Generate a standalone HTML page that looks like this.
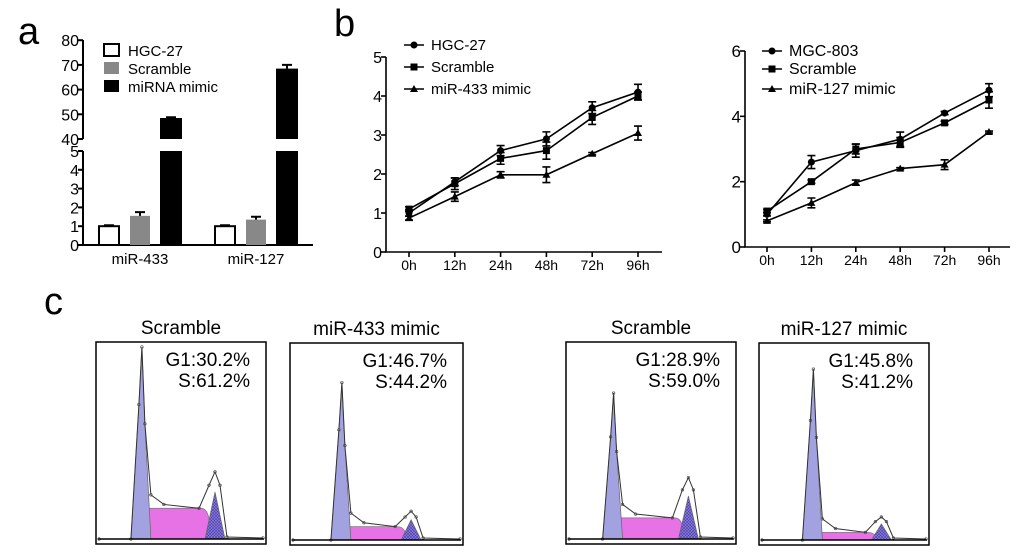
<!DOCTYPE html>
<html><head><meta charset="utf-8"><style>
body{margin:0;background:#fff;}
svg{display:block;font-family:"Liberation Sans",Arial,sans-serif;}
</style></head><body>
<svg id="fig" width="1024" height="558" viewBox="0 0 1024 558">
<defs>
<pattern id="hatch" width="3" height="3" patternUnits="userSpaceOnUse"><rect width="3" height="3" fill="#8a7fd8"/><path d="M0 0L3 3M3 0L0 3" stroke="#4a3aa8" stroke-width="0.6"/></pattern>
</defs>
<text x="18" y="44" font-size="38">a</text>
<text x="334" y="36" font-size="38">b</text>
<text x="44" y="314" font-size="38">c</text>
<g id="ga"></g>
<g id="gb1"></g>
<g id="gb2"></g>
<g id="gc"></g>
</svg>
<script>
// ---- panel a data
const aCats = ["miR-433","miR-127"];
const aSeries = ["HGC-27","Scramble","miRNA mimic"];
const aHGC = [1.0, 1.0];
const aScr = [1.55, 1.35];
const aScrErr = [0.2, 0.15];
const aMim = [48.5, 68.5];
const aMimErr = [0.3, 1.5];
const aLowTicks = [0,1,2,3,4,5];
const aHighTicks = [40,50,60,70,80];
// ---- panel b data
const bCats = ["0h","12h","24h","48h","72h","96h"];
const b1Names = ["HGC-27","Scramble","miR-433 mimic"];
const b1HGC = [1.0,1.8,2.6,2.9,3.7,4.1];
const b1HGCErr = [0.08,0.1,0.13,0.18,0.15,0.2];
const b1Scr = [1.1,1.75,2.4,2.6,3.45,4.0];
const b1ScrErr = [0.06,0.15,0.15,0.22,0.18,0.1];
const b1Mim = [0.87,1.42,1.98,1.98,2.52,3.05];
const b1MimErr = [0.05,0.12,0.08,0.2,0.03,0.18];
const b1Ticks = [0,1,2,3,4,5];
const b2Names = ["MGC-803","Scramble","miR-127 mimic"];
const b2MGC = [1.0,2.6,2.95,3.3,4.1,4.8];
const b2MGCErr = [0.05,0.2,0.2,0.22,0.05,0.2];
const b2Scr = [1.1,2.0,3.0,3.2,3.8,4.5];
const b2ScrErr = [0.05,0.05,0.15,0.15,0.05,0.25];
const b2Mim = [0.8,1.35,1.97,2.4,2.52,3.52];
const b2MimErr = [0.03,0.15,0.08,0.03,0.15,0.03];
const b2Ticks = [0,2,4,6];
// ---- panel c data
const cTitles = ["Scramble","miR-433 mimic","Scramble","miR-127 mimic"];
const cG1 = ["30.2","46.7","28.9","45.8"];
const cS = ["61.2","44.2","59.0","41.2"];
const cG1Height = [100,82,76,89];
const cSHeight = [15,6,10,3];
const cG2Height = [35,15,32,12];

const NS="http://www.w3.org/2000/svg";
function el(tag,attrs,parent,txt){const e=document.createElementNS(NS,tag);for(const k in attrs)e.setAttribute(k,attrs[k]);if(txt!==undefined)e.textContent=txt;parent.appendChild(e);return e;}

// ===== Panel a
(function(){
const g=document.getElementById('ga');
const X0=83,X1=313;
const yLow=v=>245-v*18.8;
const yHigh=v=>139-(v-40)*2.47;
let ax=el('path',{d:`M${X0} 245H${X1}M${X0} 245V151M${X0} 139V40`,stroke:'#000','stroke-width':2,fill:'none'},g);

aLowTicks.forEach(t=>{el('line',{x1:X0-5,x2:X0,y1:yLow(t),y2:yLow(t),stroke:'#000','stroke-width':2},g);
 const tx=el('text',{x:X0-4,y:yLow(t)+6,'font-size':16,'text-anchor':'end'},g,t);});
aHighTicks.forEach(t=>{el('line',{x1:X0-5,x2:X0,y1:yHigh(t),y2:yHigh(t),stroke:'#000','stroke-width':2},g);
 const tx=el('text',{x:X0-4,y:yHigh(t)+6,'font-size':16,'text-anchor':'end'},g,t);});
const groupX=[98,214], bw=22, gap=31;
aCats.forEach((c,i)=>{
 const vals=[aHGC[i],aScr[i],aMim[i]];
 const errs=[0.05,aScrErr[i],aMimErr[i]];
 vals.forEach((v,j)=>{
  const x=groupX[i]+j*gap;
  const fill=j==0?'#fff':j==1?'#888':'#000';
  if(v>5){
   let r1=el('rect',{x:x,y:yLow(5),width:bw,height:245-yLow(5),fill:fill},g);
   
   let r2=el('rect',{x:x,y:yHigh(v),width:bw,height:yHigh(40)-yHigh(v),fill:fill},g);
   
   el('path',{d:`M${x+bw/2} ${yHigh(v)}V${yHigh(v+errs[j])}M${x+bw/2-5} ${yHigh(v+errs[j])}H${x+bw/2+5}`,stroke:'#000','stroke-width':2},g);
  } else {
   let r=el('rect',{x:x+1,y:yLow(v),width:bw-2,height:245-yLow(v),fill:fill,stroke:'#000','stroke-width':j==0?2:0},g);
   
   el('path',{d:`M${x+bw/2} ${yLow(v)}V${yLow(v+errs[j])}M${x+bw/2-5} ${yLow(v+errs[j])}H${x+bw/2+5}`,stroke:'#000','stroke-width':2},g);
  }
 });
 const tx=el('text',{x:groupX[i]+42,y:264,'font-size':15,'text-anchor':'middle'},g,c);
 
});
aSeries.forEach((s,j)=>{
 const y=50+j*18;
 const fill=j==0?'#fff':j==1?'#888':'#000';
 let r=el('rect',{x:104,y:y-6,width:15,height:12,fill:fill,stroke:j==0?'#000':'none','stroke-width':2},g);
 
 let t=el('text',{x:128,y:y+6,'font-size':15},g,s);
});
})();

// ===== Panel b
function lineChart(id,X0,X1,Y0,Ytop,maxV,ticks,x0c,x96c,tickY,names,series,errs,legX,legY,fs,lfs){
 const g=document.getElementById(id);
 const ys=v=>Y0-(v/maxV)*(Y0-Ytop);
 const xs=i=>x0c+i*(x96c-x0c)/(bCats.length-1);
 let ax=el('path',{d:`M${X0} ${Ytop}V${Y0}H${X1}`,stroke:'#000','stroke-width':1.6,fill:'none'},g);
 
 ticks.forEach(t=>{el('line',{x1:X0-5,x2:X0,y1:ys(t),y2:ys(t),stroke:'#000','stroke-width':1.6},g);
  const tx=el('text',{x:X0-4,y:ys(t)+6,'font-size':fs,'text-anchor':'end'},g,t);});
 bCats.forEach((c,i)=>{el('line',{x1:xs(i),x2:xs(i),y1:Y0,y2:Y0+5,stroke:'#000','stroke-width':1.6},g);
  const tx=el('text',{x:xs(i),y:tickY,'font-size':14,'text-anchor':'middle'},g,c);});
 function marker(k,x,y,par){
  if(k==0)return el('circle',{cx:x,cy:y,r:3.5,fill:'#000'},par);
  if(k==1)return el('rect',{x:x-3.5,y:y-3.5,width:7,height:7,fill:'#000'},par);
  return el('path',{d:`M${x} ${y-4}L${x+4} ${y+3}L${x-4} ${y+3}Z`,fill:'#000'},par);
 }
 series.forEach((s,k)=>{
  const sg=el('g',{},g);
  el('polyline',{points:s.map((v,i)=>xs(i)+','+ys(v)).join(' '),fill:'none',stroke:'#000','stroke-width':1.6},sg);
  s.forEach((v,i)=>{
   const e=errs[k][i],x=xs(i);
   el('path',{d:`M${x} ${ys(v-e)}V${ys(v+e)}M${x-4} ${ys(v-e)}H${x+4}M${x-4} ${ys(v+e)}H${x+4}`,stroke:'#000','stroke-width':1.6},sg);
   const m=marker(k,x,ys(v),sg);
  });
 });
 names.forEach((n,k)=>{
  const y=legY[k];
  el('line',{x1:legX,x2:legX+20,y1:y,y2:y,stroke:'#000','stroke-width':1.6},g);
  marker(k,legX+10,y,g);
  const t=el('text',{x:legX+27,y:y+5,'font-size':lfs},g,n);
 });
}
lineChart('gb1',386,662,252,57,5,b1Ticks,409,638,270,b1Names,[b1HGC,b1Scr,b1Mim],[b1HGCErr,b1ScrErr,b1MimErr],404,[45,67,89],16,15);
lineChart('gb2',745,1010,247,51,6,b2Ticks,767,989,265,b2Names,[b2MGC,b2Scr,b2Mim],[b2MGCErr,b2ScrErr,b2MimErr],762,[51,69,89],17,16);

// ===== Panel c
(function(){
const g=document.getElementById('gc');
const boxes=[[96,342,170,202],[290,343,173,202],[566,342,170,202],[759,343,170,202]];
const g1x=[0.27,0.30,0.28,0.32], g2x=[0.70,0.70,0.72,0.72];
boxes.forEach((b,i)=>{
 const [bx,by,bw,bh]=b;
 const pg=el('g',{},g);
 const t=el('text',{x:bx+bw/2,y:by-8,'font-size':19,'text-anchor':'middle'},pg,cTitles[i]);
 el('rect',{x:bx,y:by,width:bw,height:bh,fill:'#fff',stroke:'#000','stroke-width':1.5},pg);
 const base=by+bh-5, sc=(bh-10)/100;
 const X=f=>bx+f*bw, Y=v=>base-v*sc;
 const gx=X(g1x[i]), g2=X(g2x[i]);
 el('path',{d:`M${gx-4} ${base}L${gx+2} ${Y(cSHeight[i])}Q${gx+4} ${Y(cSHeight[i]+1)} ${gx+10} ${Y(cSHeight[i]+1)}H${g2-14}Q${g2-8} ${Y(cSHeight[i]+1)} ${g2-6} ${Y(cSHeight[i]*0.7)}L${g2+4} ${base}Z`,fill:'#e672e6',stroke:'#777','stroke-width':0.7},pg);
 el('path',{d:`M${gx-11} ${base}L${gx-3} ${Y(cG1Height[i]*0.7)}L${gx} ${Y(cG1Height[i])}L${gx+3} ${Y(cG1Height[i]*0.6)}L${gx+9} ${base}Z`,fill:'#a2a2e0',stroke:'#666','stroke-width':0.7},pg);
 el('path',{d:`M${g2-10} ${base}L${g2} ${Y(cG2Height[i]*0.7)}L${g2+10} ${base}Z`,fill:'url(#hatch)',stroke:'#666','stroke-width':0.7},pg);
 const pts=[[bx+3,base],[gx-11,base],[gx-3,Y(cG1Height[i]*0.7)],[gx,Y(cG1Height[i])],[gx+3,Y(cG1Height[i]*0.6)],[gx+9,Y(cSHeight[i]+8)],[gx+22,Y(cSHeight[i]+3)],[g2-16,Y(cSHeight[i]+1)],[g2-6,Y(cG2Height[i]*0.8)],[g2,Y(cG2Height[i])],[g2+5,Y(cG2Height[i]*0.8)],[g2+12,base-2],[bx+bw-3,base-1]];
 el('polyline',{points:pts.map(p=>p.join(',')).join(' '),fill:'none',stroke:'#333','stroke-width':1},pg);
 pts.forEach(p=>el('circle',{cx:p[0],cy:p[1],r:1.3,fill:'none',stroke:'#444','stroke-width':0.6},pg));
 el('line',{x1:bx+2,x2:bx+bw-2,y1:base,y2:base,stroke:'#000','stroke-width':1.5},pg);
 const t1=el('text',{x:bx+bw-16,y:by+24,'font-size':19,'text-anchor':'end'},pg,'G1:'+cG1[i]+'%');
 const t2=el('text',{x:bx+bw-16,y:by+45,'font-size':19,'text-anchor':'end'},pg,'S:'+cS[i]+'%');
});
})();
</script>
</body></html>
